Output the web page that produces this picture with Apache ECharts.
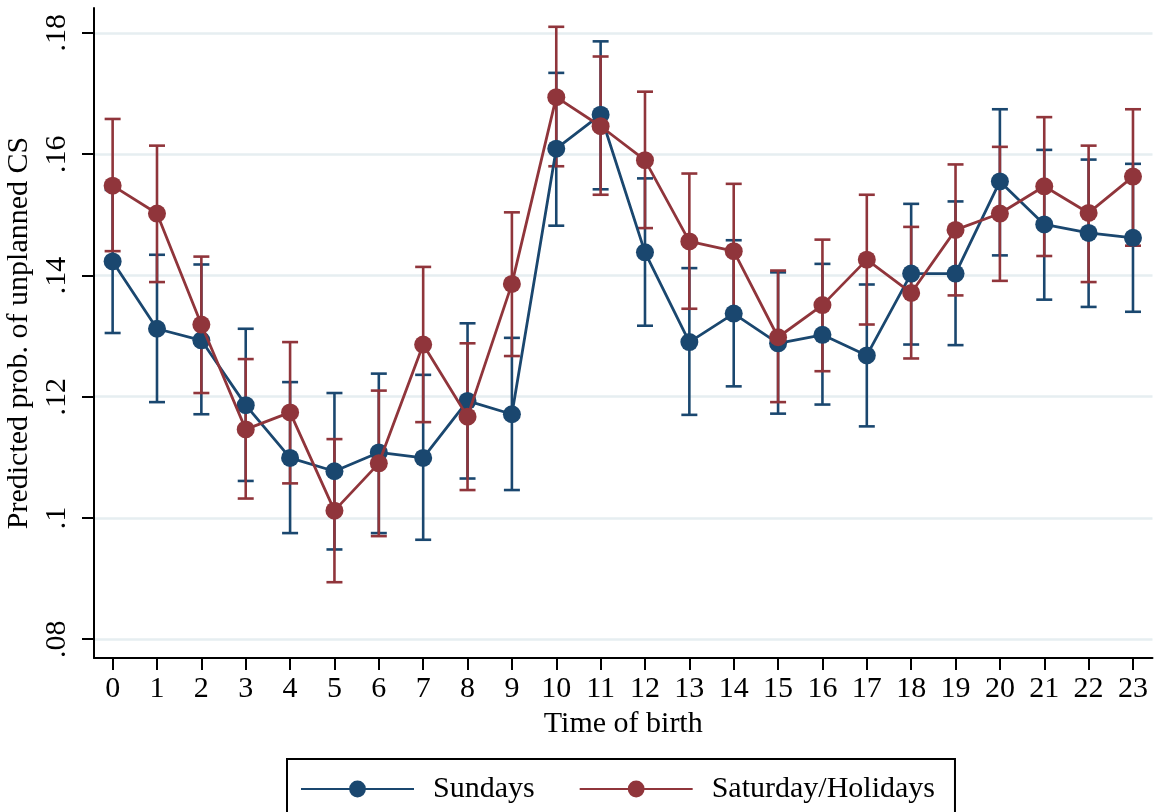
<!DOCTYPE html>
<html>
<head>
<meta charset="utf-8">
<script src="https://cdn.jsdelivr.net/npm/echarts@6/dist/echarts.min.js"></script>
<style>
  html, body { margin: 0; padding: 0; background: #fff; }
  #chart { width: 1154px; height: 812px; }
</style>
</head>
<body>
<div id="chart"></div>
<script>
// Hour of birth
const hours = [0,1,2,3,4,5,6,7,8,9,10,11,12,13,14,15,16,17,18,19,20,21,22,23];

// Sundays: point estimate and 95% CI
const sunEst = [0.1423,0.1312,0.1293,0.1186,0.1099,0.1077,0.1108,0.1099,0.1193,0.1171,0.1609,0.1665,0.1438,0.1290,0.1337,0.1288,0.1302,0.1268,0.1403,0.1403,0.1555,0.1484,0.1470,0.1462];
const sunLo  = [0.1305,0.1191,0.1171,0.1061,0.0975,0.0948,0.0975,0.0964,0.1065,0.1046,0.1482,0.1542,0.1317,0.1170,0.1217,0.1172,0.1187,0.1151,0.1286,0.1285,0.1433,0.1360,0.1348,0.1340];
const sunHi  = [0.1541,0.1434,0.1418,0.1312,0.1224,0.1206,0.1238,0.1236,0.1321,0.1297,0.1734,0.1786,0.1560,0.1412,0.1458,0.1405,0.1419,0.1385,0.1518,0.1522,0.1674,0.1607,0.1591,0.1584];

// Saturday/Holidays: point estimate and 95% CI
const satEst = [0.1548,0.1502,0.1319,0.1146,0.1174,0.1012,0.1090,0.1286,0.1167,0.1386,0.1694,0.1646,0.1590,0.1456,0.1440,0.1298,0.1351,0.1426,0.1371,0.1475,0.1502,0.1547,0.1503,0.1563];
const satLo  = [0.1440,0.1389,0.1206,0.1032,0.1057,0.0894,0.0970,0.1158,0.1046,0.1267,0.1580,0.1533,0.1478,0.1345,0.1329,0.1191,0.1242,0.1319,0.1263,0.1367,0.1391,0.1432,0.1389,0.1449];
const satHi  = [0.1658,0.1614,0.1431,0.1262,0.1290,0.1130,0.1210,0.1414,0.1288,0.1504,0.1810,0.1761,0.1703,0.1568,0.1551,0.1408,0.1459,0.1533,0.1480,0.1583,0.1612,0.1661,0.1614,0.1674];

// Y axis ticks and their labels
const yTicks = [0.08, 0.10, 0.12, 0.14, 0.16, 0.18];
const yTickLabels = ['.08', '.1', '.12', '.14', '.16', '.18'];

const NAVY = '#1a476f';
const MAROON = '#90353b';
const FONT = '"Liberation Serif", "Times New Roman", serif';

function pairs(est) { return hours.map((h, i) => [h, est[i]]); }
function ciRows(lo, hi) { return hours.map((h, i) => [h, lo[i], hi[i]]); }

// Vertical range bar with horizontal caps at both ends
function capRenderer(color) {
  return function (params, api) {
    const x = api.value(0);
    const lo = api.coord([x, api.value(1)]);
    const hi = api.coord([x, api.value(2)]);
    const half = 8;
    const style = { stroke: color, lineWidth: 2.6, fill: null };
    return {
      type: 'group',
      children: [
        { type: 'line', shape: { x1: lo[0], y1: lo[1], x2: hi[0], y2: hi[1] }, style },
        { type: 'line', shape: { x1: hi[0] - half, y1: hi[1], x2: hi[0] + half, y2: hi[1] }, style },
        { type: 'line', shape: { x1: lo[0] - half, y1: lo[1], x2: lo[0] + half, y2: lo[1] }, style }
      ]
    };
  };
}

const chart = echarts.init(document.getElementById('chart'), null, { renderer: 'canvas' });

chart.setOption({
  backgroundColor: '#ffffff',
  animation: false,
  textStyle: { fontFamily: FONT, color: '#000' },
  grid: { left: 94, right: 1.5, top: 8, bottom: 154, containLabel: false, outerBoundsMode: 'none' },
  xAxis: {
    type: 'value',
    min: -0.42,
    max: 23.44,
    name: 'Time of birth',
    nameLocation: 'middle',
    nameGap: 50,
    nameTextStyle: { fontFamily: FONT, fontSize: 30, color: '#000' },
    axisLine: { show: true, onZero: false, lineStyle: { color: '#000', width: 2 } },
    axisTick: { show: true, length: 12, lineStyle: { color: '#000', width: 2 }, customValues: hours },
    axisLabel: {
      fontFamily: FONT, fontSize: 30, color: '#000', margin: 16,
      customValues: hours,
      formatter: v => String(Math.round(v))
    },
    splitLine: { show: false }
  },
  yAxis: {
    type: 'value',
    min: 0.0769,
    max: 0.1841,
    name: 'Predicted prob. of unplanned CS',
    nameLocation: 'middle',
    nameGap: 53,
    nameRotate: 90,
    nameTextStyle: { fontFamily: FONT, fontSize: 30, color: '#000' },
    axisLine: { show: true, onZero: false, lineStyle: { color: '#000', width: 2 } },
    axisTick: { show: true, length: 12, lineStyle: { color: '#000', width: 2 }, customValues: yTicks },
    axisLabel: {
      fontFamily: FONT, fontSize: 30, color: '#000', margin: 22,
      rotate: 90,
      customValues: yTicks,
      formatter: v => yTickLabels[yTicks.findIndex(t => Math.abs(t - v) < 1e-6)]
    },
    splitLine: { show: true, lineStyle: { color: '#e6eef1', width: 2.5 } }
  },
  legend: {
    data: ['Sundays', 'Saturday/Holidays'],
    left: 287,
    top: 759,
    orient: 'horizontal',
    padding: [15, 20, 40, 13],
    borderColor: '#000',
    borderWidth: 2,
    itemWidth: 113,
    itemHeight: 21,
    itemGap: 44,
    textStyle: { fontFamily: FONT, fontSize: 30, color: '#000', padding: [0, 0, 0, 14] }
  },
  series: [
    {
      name: 'Sundays CI',
      type: 'custom',
      renderItem: capRenderer(NAVY),
      data: ciRows(sunLo, sunHi),
      encode: { x: 0, y: [1, 2] },
      z: 1
    },
    {
      name: 'Saturday/Holidays CI',
      type: 'custom',
      renderItem: capRenderer(MAROON),
      data: ciRows(satLo, satHi),
      encode: { x: 0, y: [1, 2] },
      z: 2
    },
    {
      name: 'Sundays',
      type: 'line',
      data: pairs(sunEst),
      symbol: 'circle',
      symbolSize: 18,
      color: NAVY,
      itemStyle: { color: NAVY },
      lineStyle: { color: NAVY, width: 2.8 },
      z: 3
    },
    {
      name: 'Saturday/Holidays',
      type: 'line',
      data: pairs(satEst),
      symbol: 'circle',
      symbolSize: 18,
      color: MAROON,
      itemStyle: { color: MAROON },
      lineStyle: { color: MAROON, width: 2.8 },
      z: 4
    }
  ]
});
</script>
</body>
</html>
